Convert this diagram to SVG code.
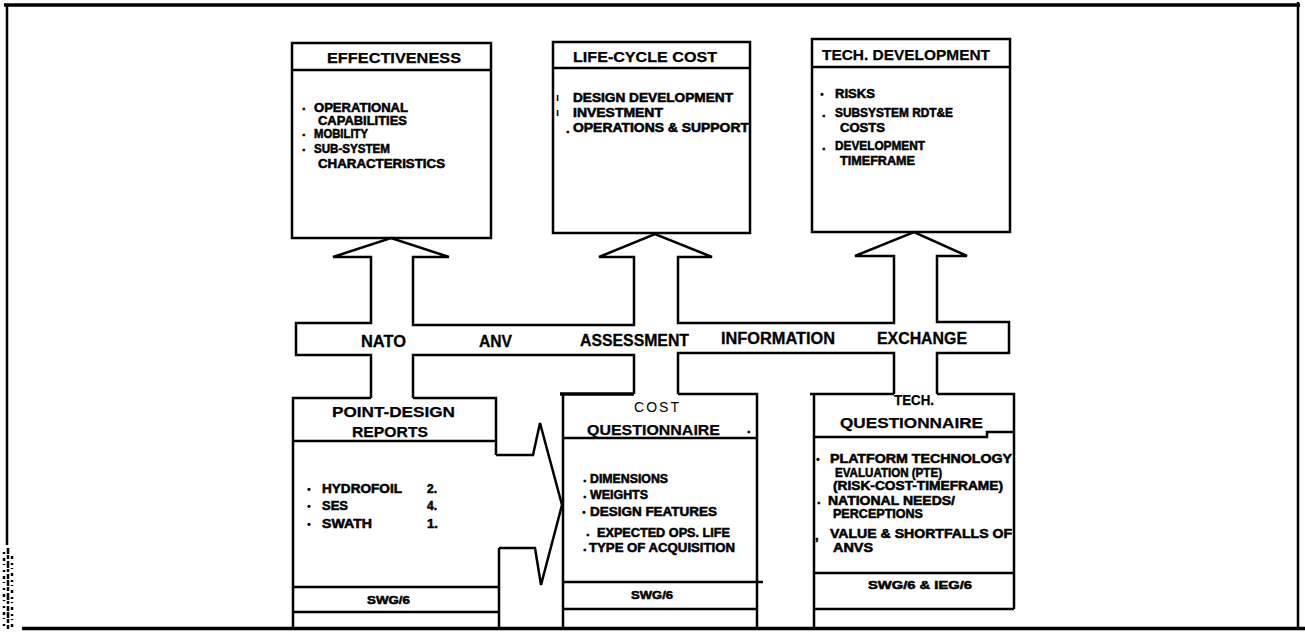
<svg xmlns="http://www.w3.org/2000/svg" width="1305" height="633" viewBox="0 0 1305 633">
  <style>
    .ln { fill: none; stroke: #000; stroke-width: 2.5; stroke-linejoin: miter; }
    .thk { stroke-width: 3.5; }
    .box { fill: #fff; stroke: #000; stroke-width: 2.5; }
    text { font-family: "Liberation Sans", Arial, sans-serif; fill: #000; }
    .hd { font-size: 15px; font-weight: bold; stroke: #000; stroke-width: 0.25; }
    .bus { font-size: 16px; font-weight: bold; stroke: #000; stroke-width: 0.3; }
    .bd { font-size: 13px; font-weight: bold; stroke: #000; stroke-width: 0.55; }
    .bl { font-size: 11px; font-weight: bold; }
    .ft { font-size: 11px; font-weight: bold; stroke: #000; stroke-width: 0.5; }
    .lt { font-size: 14px; font-weight: normal; }
  </style>

  <rect width="1305" height="633" fill="#fff"/>

  <!-- page frame -->
  <g id="frame">
    <path class="ln thk" d="M4,5 H1300"/>
    <path class="ln" stroke-width="3" d="M7,4 V545"/>
    <path class="ln" stroke-width="3" d="M1298,2 V629"/>
    <path class="ln thk" d="M22,628.5 H1305"/>
    <path class="ln" stroke-width="4" stroke-dasharray="6 1 4 2 7 1 3 2 5 1" d="M8,548 V629"/>
    <path class="ln" stroke-width="2" stroke-dasharray="2 4 3 3 1 5" d="M4,552 V626"/>
    <path class="ln" stroke-width="2" stroke-dasharray="3 4 2 3 1 4" d="M12,556 V627"/>
  </g>

  <!-- upper row: evaluation areas -->
  <g id="effectiveness">
    <rect class="box" x="292" y="43" width="199" height="195"/>
    <path class="ln" d="M292,70 H491"/>
    <text class="hd" x="327" y="63" textLength="134" lengthAdjust="spacingAndGlyphs">EFFECTIVENESS</text>
    <text class="bd" x="302" y="110">.</text>
    <text class="bd" x="314" y="112" textLength="94" lengthAdjust="spacingAndGlyphs">OPERATIONAL</text>
    <text class="bd" x="318" y="125" textLength="89" lengthAdjust="spacingAndGlyphs">CAPABILITIES</text>
    <text class="bd" x="302" y="136">.</text>
    <text class="bd" x="314" y="138" textLength="54" lengthAdjust="spacingAndGlyphs">MOBILITY</text>
    <text class="bd" x="302" y="151">.</text>
    <text class="bd" x="314" y="153" textLength="76" lengthAdjust="spacingAndGlyphs">SUB-SYSTEM</text>
    <text class="bd" x="318" y="168" textLength="127" lengthAdjust="spacingAndGlyphs">CHARACTERISTICS</text>
  </g>

  <g id="life-cycle-cost">
    <rect class="box" x="553" y="42" width="197" height="191"/>
    <path class="ln" d="M553,68 H750"/>
    <text class="hd" x="573" y="62" textLength="144" lengthAdjust="spacingAndGlyphs">LIFE-CYCLE COST</text>
    <text class="bl" x="556" y="101">ı</text>
    <text class="bd" x="573" y="102" textLength="160" lengthAdjust="spacingAndGlyphs">DESIGN DEVELOPMENT</text>
    <text class="bl" x="556" y="116">ı</text>
    <text class="bd" x="573" y="117" textLength="90" lengthAdjust="spacingAndGlyphs">INVESTMENT</text>
    <text class="bd" x="566" y="133">.</text>
    <text class="bd" x="573" y="132" textLength="176" lengthAdjust="spacingAndGlyphs">OPERATIONS &amp; SUPPORT</text>
  </g>

  <g id="tech-development">
    <rect class="box" x="812" y="39" width="198" height="193"/>
    <path class="ln" d="M812,67 H1010"/>
    <text class="hd" x="822" y="60" textLength="168" lengthAdjust="spacingAndGlyphs">TECH. DEVELOPMENT</text>
    <text class="bl" x="820" y="98">•</text>
    <text class="bd" x="835" y="98" textLength="40" lengthAdjust="spacingAndGlyphs">RISKS</text>
    <text class="bd" x="822" y="117">.</text>
    <text class="bd" x="835" y="117" textLength="118" lengthAdjust="spacingAndGlyphs">SUBSYSTEM RDT&amp;E</text>
    <text class="bd" x="840" y="132" textLength="45" lengthAdjust="spacingAndGlyphs">COSTS</text>
    <text class="bd" x="822" y="150">.</text>
    <text class="bd" x="835" y="150" textLength="90" lengthAdjust="spacingAndGlyphs">DEVELOPMENT</text>
    <text class="bd" x="840" y="165" textLength="75" lengthAdjust="spacingAndGlyphs">TIMEFRAME</text>
  </g>

  <!-- lower row: data sources -->
  <g id="point-design-reports">
    <path class="ln" d="M371,398 H293 V628 M413,398 H496 V455 M499,548 V628"/>
    <path class="ln" d="M293,441 H496"/>
    <path class="ln" stroke-width="3" d="M293,587 H499 M293,612 H499"/>
    <text class="hd" x="332" y="417" textLength="123" lengthAdjust="spacingAndGlyphs">POINT-DESIGN</text>
    <text class="hd" x="352" y="437" textLength="76" lengthAdjust="spacingAndGlyphs">REPORTS</text>
    <text class="bl" x="307" y="493">•</text>
    <text class="bd" x="322" y="493" textLength="80" lengthAdjust="spacingAndGlyphs">HYDROFOIL</text>
    <text class="bd" x="427" y="493" textLength="10" lengthAdjust="spacingAndGlyphs">2.</text>
    <text class="bl" x="307" y="510">•</text>
    <text class="bd" x="322" y="510" textLength="26" lengthAdjust="spacingAndGlyphs">SES</text>
    <text class="bd" x="427" y="510" textLength="10" lengthAdjust="spacingAndGlyphs">4.</text>
    <text class="bl" x="307" y="528">•</text>
    <text class="bd" x="322" y="528" textLength="50" lengthAdjust="spacingAndGlyphs">SWATH</text>
    <text class="bd" x="427" y="528" textLength="11" lengthAdjust="spacingAndGlyphs">1.</text>
    <text class="ft" x="367" y="604" textLength="43" lengthAdjust="spacingAndGlyphs">SWG/6</text>
  </g>

  <g id="cost-questionnaire">
    <path class="ln thk" d="M634,394 H560"/>
    <path class="ln" d="M563,394 V628 M678,394 H757 V628"/>
    <path class="ln" d="M563,438 H757"/>
    <path class="ln" stroke-width="3" d="M563,582 H763 M563,609 H757"/>
    <text class="lt" x="634" y="412" textLength="45" lengthAdjust="spacing">COST</text>
    <text class="hd" x="587" y="435" textLength="133" lengthAdjust="spacingAndGlyphs">QUESTIONNAIRE</text>
    <text class="bd" x="747" y="433">.</text>
    <text class="bd" x="583" y="482">.</text>
    <text class="bd" x="590" y="483" textLength="78" lengthAdjust="spacingAndGlyphs">DIMENSIONS</text>
    <text class="bd" x="583" y="498">.</text>
    <text class="bd" x="590" y="499" textLength="58" lengthAdjust="spacingAndGlyphs">WEIGHTS</text>
    <text class="bl" x="582" y="516">•</text>
    <text class="bd" x="590" y="516" textLength="127" lengthAdjust="spacingAndGlyphs">DESIGN FEATURES</text>
    <text class="bd" x="586" y="536">.</text>
    <text class="bd" x="597" y="537" textLength="133" lengthAdjust="spacingAndGlyphs">EXPECTED OPS. LIFE</text>
    <text class="bd" x="583" y="551">.</text>
    <text class="bd" x="589" y="552" textLength="146" lengthAdjust="spacingAndGlyphs">TYPE OF ACQUISITION</text>
    <text class="ft" x="631" y="599" textLength="42" lengthAdjust="spacingAndGlyphs">SWG/6</text>
  </g>

  <g id="tech-questionnaire">
    <text class="hd" x="894" y="405" textLength="40" lengthAdjust="spacingAndGlyphs">TECH.</text>
    <path class="ln" d="M894,394 H810 M814,394 V628 M937,394 H1014 V609"/>
    <path class="ln" d="M814,437 H987 V432 H1014"/>
    <path class="ln" stroke-width="3" d="M814,573 H1014 M814,609 H1014"/>
    <text class="hd" x="840" y="428" textLength="143" lengthAdjust="spacingAndGlyphs">QUESTIONNAIRE</text>
    <text class="bl" x="816" y="463">•</text>
    <text class="bd" x="830" y="463" textLength="182" lengthAdjust="spacingAndGlyphs">PLATFORM TECHNOLOGY</text>
    <text class="bd" x="835" y="477" textLength="107" lengthAdjust="spacingAndGlyphs">EVALUATION (PTE)</text>
    <text class="bd" x="833" y="490" textLength="170" lengthAdjust="spacingAndGlyphs">(RISK-COST-TIMEFRAME)</text>
    <text class="bd" x="817" y="504">.</text>
    <text class="bd" x="828" y="505" textLength="127" lengthAdjust="spacingAndGlyphs">NATIONAL NEEDS/</text>
    <text class="bd" x="833" y="518" textLength="90" lengthAdjust="spacingAndGlyphs">PERCEPTIONS</text>
    <text class="bd" x="815" y="540">,</text>
    <text class="bd" x="830" y="538" textLength="182" lengthAdjust="spacingAndGlyphs">VALUE &amp; SHORTFALLS OF</text>
    <text class="bd" x="833" y="552" textLength="40" lengthAdjust="spacingAndGlyphs">ANVS</text>
    <text class="ft" x="868" y="589" textLength="104" lengthAdjust="spacingAndGlyphs">SWG/6 &amp; IEG/6</text>
  </g>

  <!-- connectors: the information-exchange bus with its up arrows, and the report arrow -->
  <g id="connectors">
    <path class="ln" d="M371,398 V355 H296 V323 H371 V257 H333 L391,238 L449,257 H413 V325 H634 V257 H599 L655,234 L712,257 H678 V323 H894 V256 H855 L914,232 L967,256 H937 V322 H1009 V353 H937 V394"/>
    <path class="ln" d="M894,394 V353 H678 V394"/>
    <path class="ln" d="M634,394 V355 H413 V398"/>
    <path class="ln" d="M496,455 H533 L540,423 L562,505 L541,585 L535,548 H499"/>
    <text class="bus" x="361" y="347" textLength="45" lengthAdjust="spacingAndGlyphs">NATO</text>
    <text class="bus" x="479" y="347" textLength="33" lengthAdjust="spacingAndGlyphs">ANV</text>
    <text class="bus" x="580" y="346" textLength="109" lengthAdjust="spacingAndGlyphs">ASSESSMENT</text>
    <text class="bus" x="721" y="344" textLength="114" lengthAdjust="spacingAndGlyphs">INFORMATION</text>
    <text class="bus" x="877" y="344" textLength="90" lengthAdjust="spacingAndGlyphs">EXCHANGE</text>
  </g>
</svg>
